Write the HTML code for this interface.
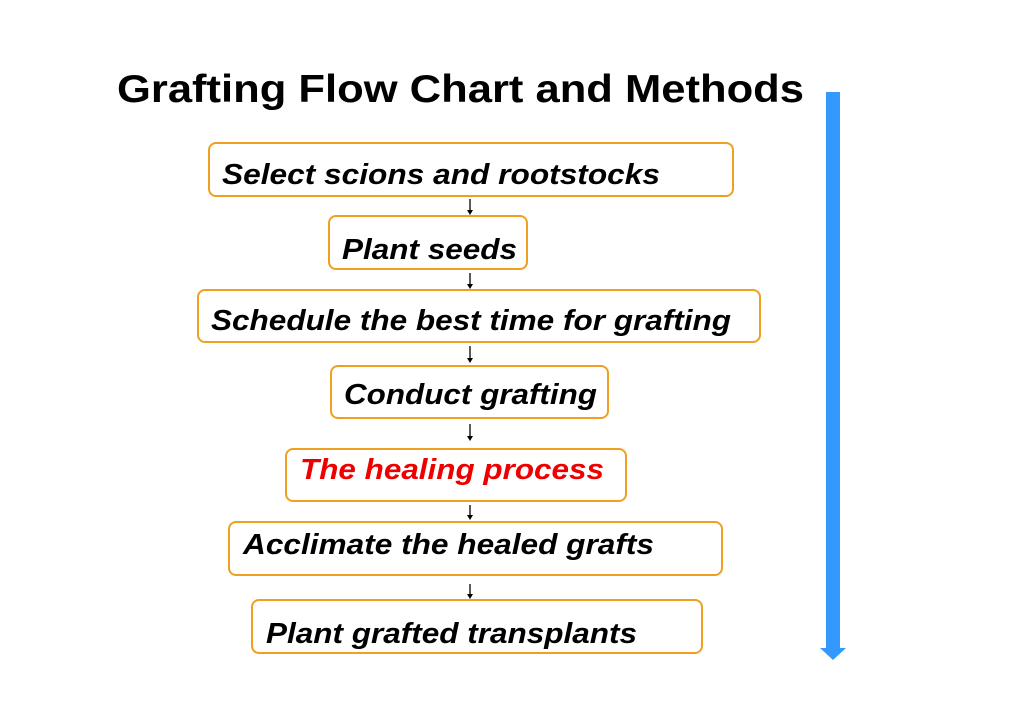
<!DOCTYPE html>
<html><head><style>body{margin:0;background:#fff}svg{display:block}</style></head><body>
<svg width="1024" height="724" xmlns="http://www.w3.org/2000/svg" font-family="Liberation Sans, Arial, sans-serif">
<text x="117" y="102" font-size="39" font-weight="bold" textLength="687" lengthAdjust="spacingAndGlyphs">Grafting Flow Chart and Methods</text>
<rect x="826" y="92" width="14" height="558" fill="#3399ff"/>
<polygon points="820,648 846,648 833,660" fill="#3399ff"/>
<g fill="#fff" stroke="#f0a020" stroke-width="2">
<rect x="209" y="143" width="524" height="53" rx="7"/>
<rect x="329" y="216" width="198" height="53" rx="7"/>
<rect x="198" y="290" width="562" height="52" rx="7"/>
<rect x="331" y="366" width="277" height="52" rx="7"/>
<rect x="286" y="449" width="340" height="52" rx="7"/>
<rect x="229" y="522" width="493" height="53" rx="7"/>
<rect x="252" y="600" width="450" height="53" rx="7"/>
</g>
<g stroke="#000" stroke-width="1.3">
<line x1="470" y1="199" x2="470" y2="211"/><line x1="470" y1="273" x2="470" y2="285"/>
<line x1="470" y1="346" x2="470" y2="359"/><line x1="470" y1="424" x2="470" y2="437"/>
<line x1="470" y1="505" x2="470" y2="516"/><line x1="470" y1="584" x2="470" y2="595"/>
</g>
<g fill="#000">
<polygon points="467,210 473,210 470,215"/><polygon points="467,284 473,284 470,289"/>
<polygon points="467,358 473,358 470,363"/><polygon points="467,436 473,436 470,441"/>
<polygon points="467,515 473,515 470,520"/><polygon points="467,594 473,594 470,599"/>
</g>
<g font-size="29" font-weight="bold" font-style="italic" lengthAdjust="spacingAndGlyphs">
<text x="222" y="184" textLength="438" lengthAdjust="spacingAndGlyphs">Select scions and rootstocks</text>
<text x="342" y="259" textLength="175" lengthAdjust="spacingAndGlyphs">Plant seeds</text>
<text x="211" y="330" textLength="520" lengthAdjust="spacingAndGlyphs">Schedule the best time for grafting</text>
<text x="344" y="404" textLength="253" lengthAdjust="spacingAndGlyphs">Conduct grafting</text>
<text x="300" y="479" fill="#ee0000" textLength="304" lengthAdjust="spacingAndGlyphs">The healing process</text>
<text x="243" y="554" textLength="411" lengthAdjust="spacingAndGlyphs">Acclimate the healed grafts</text>
<text x="266" y="643" textLength="371" lengthAdjust="spacingAndGlyphs">Plant grafted transplants</text>
</g>
</svg>
</body></html>
